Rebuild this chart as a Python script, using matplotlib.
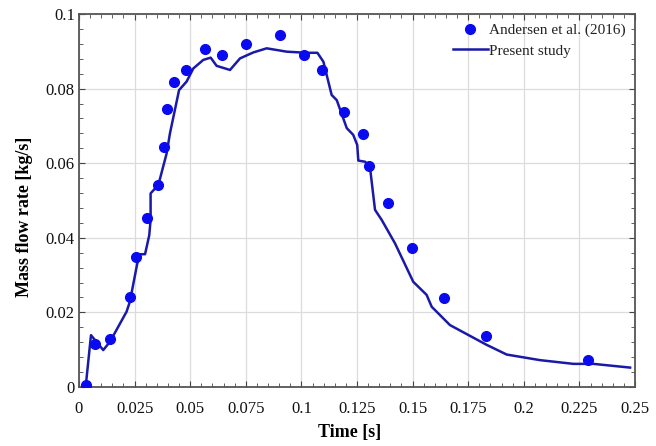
import matplotlib
matplotlib.use("Agg")
import matplotlib.pyplot as plt
from matplotlib.ticker import MultipleLocator, AutoMinorLocator, FormatStrFormatter
import numpy as np

# experimental points (Andersen et al. 2016)
exp_t = [0.0031, 0.0073, 0.0141, 0.0231, 0.0256, 0.0307, 0.0357, 0.0382, 0.0397,
         0.0427, 0.0483, 0.0568, 0.0644, 0.0752, 0.0904, 0.1013, 0.1094, 0.1190,
         0.1278, 0.1304, 0.1391, 0.1497, 0.1641, 0.1829, 0.2289]
exp_m = [0.0006, 0.0115, 0.0129, 0.0242, 0.0349, 0.0453, 0.0542, 0.0644, 0.0746,
         0.0817, 0.0849, 0.0906, 0.0890, 0.0919, 0.0944, 0.0890, 0.0849, 0.0738,
         0.0677, 0.0592, 0.0494, 0.0373, 0.0239, 0.0137, 0.0072]

# present study curve
sim_t = [0.0031, 0.0054, 0.0109, 0.0139, 0.0214, 0.0229, 0.0262, 0.0277, 0.0297,
         0.0316, 0.0322, 0.0322, 0.0357, 0.0394, 0.0409, 0.0450, 0.0484, 0.0514,
         0.0559, 0.0592, 0.0619, 0.0679, 0.0724, 0.0784, 0.0844, 0.0934, 0.1024,
         0.1072, 0.1099, 0.1136, 0.1159, 0.1204, 0.1233, 0.1251, 0.1256, 0.1286,
         0.1308, 0.1331, 0.1361, 0.1421, 0.1503, 0.1563, 0.1586, 0.1668, 0.1833,
         0.1923, 0.2073, 0.2223, 0.2313, 0.2478]
sim_m = [0.0006, 0.0139, 0.0099, 0.0121, 0.0202, 0.0229, 0.0331, 0.0356, 0.0356,
         0.0407, 0.0448, 0.0519, 0.0542, 0.0626, 0.0680, 0.0796, 0.0819, 0.0854,
         0.0877, 0.0883, 0.0861, 0.0850, 0.0881, 0.0897, 0.0908, 0.0899, 0.0896,
         0.0896, 0.0872, 0.0783, 0.0769, 0.0694, 0.0676, 0.0649, 0.0607, 0.0604,
         0.0591, 0.0475, 0.0448, 0.0385, 0.0282, 0.0247, 0.0215, 0.0166, 0.0113,
         0.0087, 0.0072, 0.0062, 0.0062, 0.0052]

plt.rcParams['font.family'] = ['Liberation Serif', 'DejaVu Serif']

fig = plt.figure(figsize=(6.56, 4.46), dpi=100)
ax = fig.add_axes([0.1204, 0.1323, 0.8476, 0.8363])

ax.plot(sim_t, sim_m, color='#1a1aa8', lw=1.8, label='Present study', zorder=3)
ax.plot(exp_t, exp_m, 'o', color='#0a0af0', ms=7, label='Andersen et al. (2016)', zorder=4)

ax.set_xlim(0, 0.25)
ax.set_ylim(0, 0.1)
ax.xaxis.set_major_locator(MultipleLocator(0.025))
ax.yaxis.set_major_locator(MultipleLocator(0.02))
ax.xaxis.set_minor_locator(AutoMinorLocator(5))
ax.yaxis.set_minor_locator(AutoMinorLocator(5))
ax.xaxis.set_major_formatter(FormatStrFormatter('%g'))
ax.yaxis.set_major_formatter(FormatStrFormatter('%g'))

ax.grid(True, which='major', color='#dcdcdc', lw=0.9)
ax.set_axisbelow(True)
ax.tick_params(which='both', direction='in', top=True, right=True,
               labelsize=12, colors='#444444', labelcolor='#111111')
ax.tick_params(which='major', length=4)
ax.tick_params(axis='x', which='major', pad=10)
ax.tick_params(axis='y', which='major', pad=3)
ax.tick_params(which='minor', length=3)
for sp in ax.spines.values():
    sp.set_color('#555555')
    sp.set_linewidth(1.3)

ax.set_xlabel('Time [s]', fontsize=13, fontweight='bold')
ax.set_ylabel('Mass flow rate [kg/s]', fontsize=13, fontweight='bold')
ax.xaxis.set_label_coords(0.487, -0.099)
ax.yaxis.set_label_coords(-0.083, 0.456)

h, l = ax.get_legend_handles_labels()
leg = ax.legend([h[1], h[0]], [l[1], l[0]], loc='upper right', frameon=False,
                fontsize=11, handlelength=2.3, handletextpad=0.1, borderaxespad=0.2,
                labelspacing=0.45)
for t in leg.get_texts():
    t.set_color('#222222')

fig.savefig('out.png', dpi=100)
